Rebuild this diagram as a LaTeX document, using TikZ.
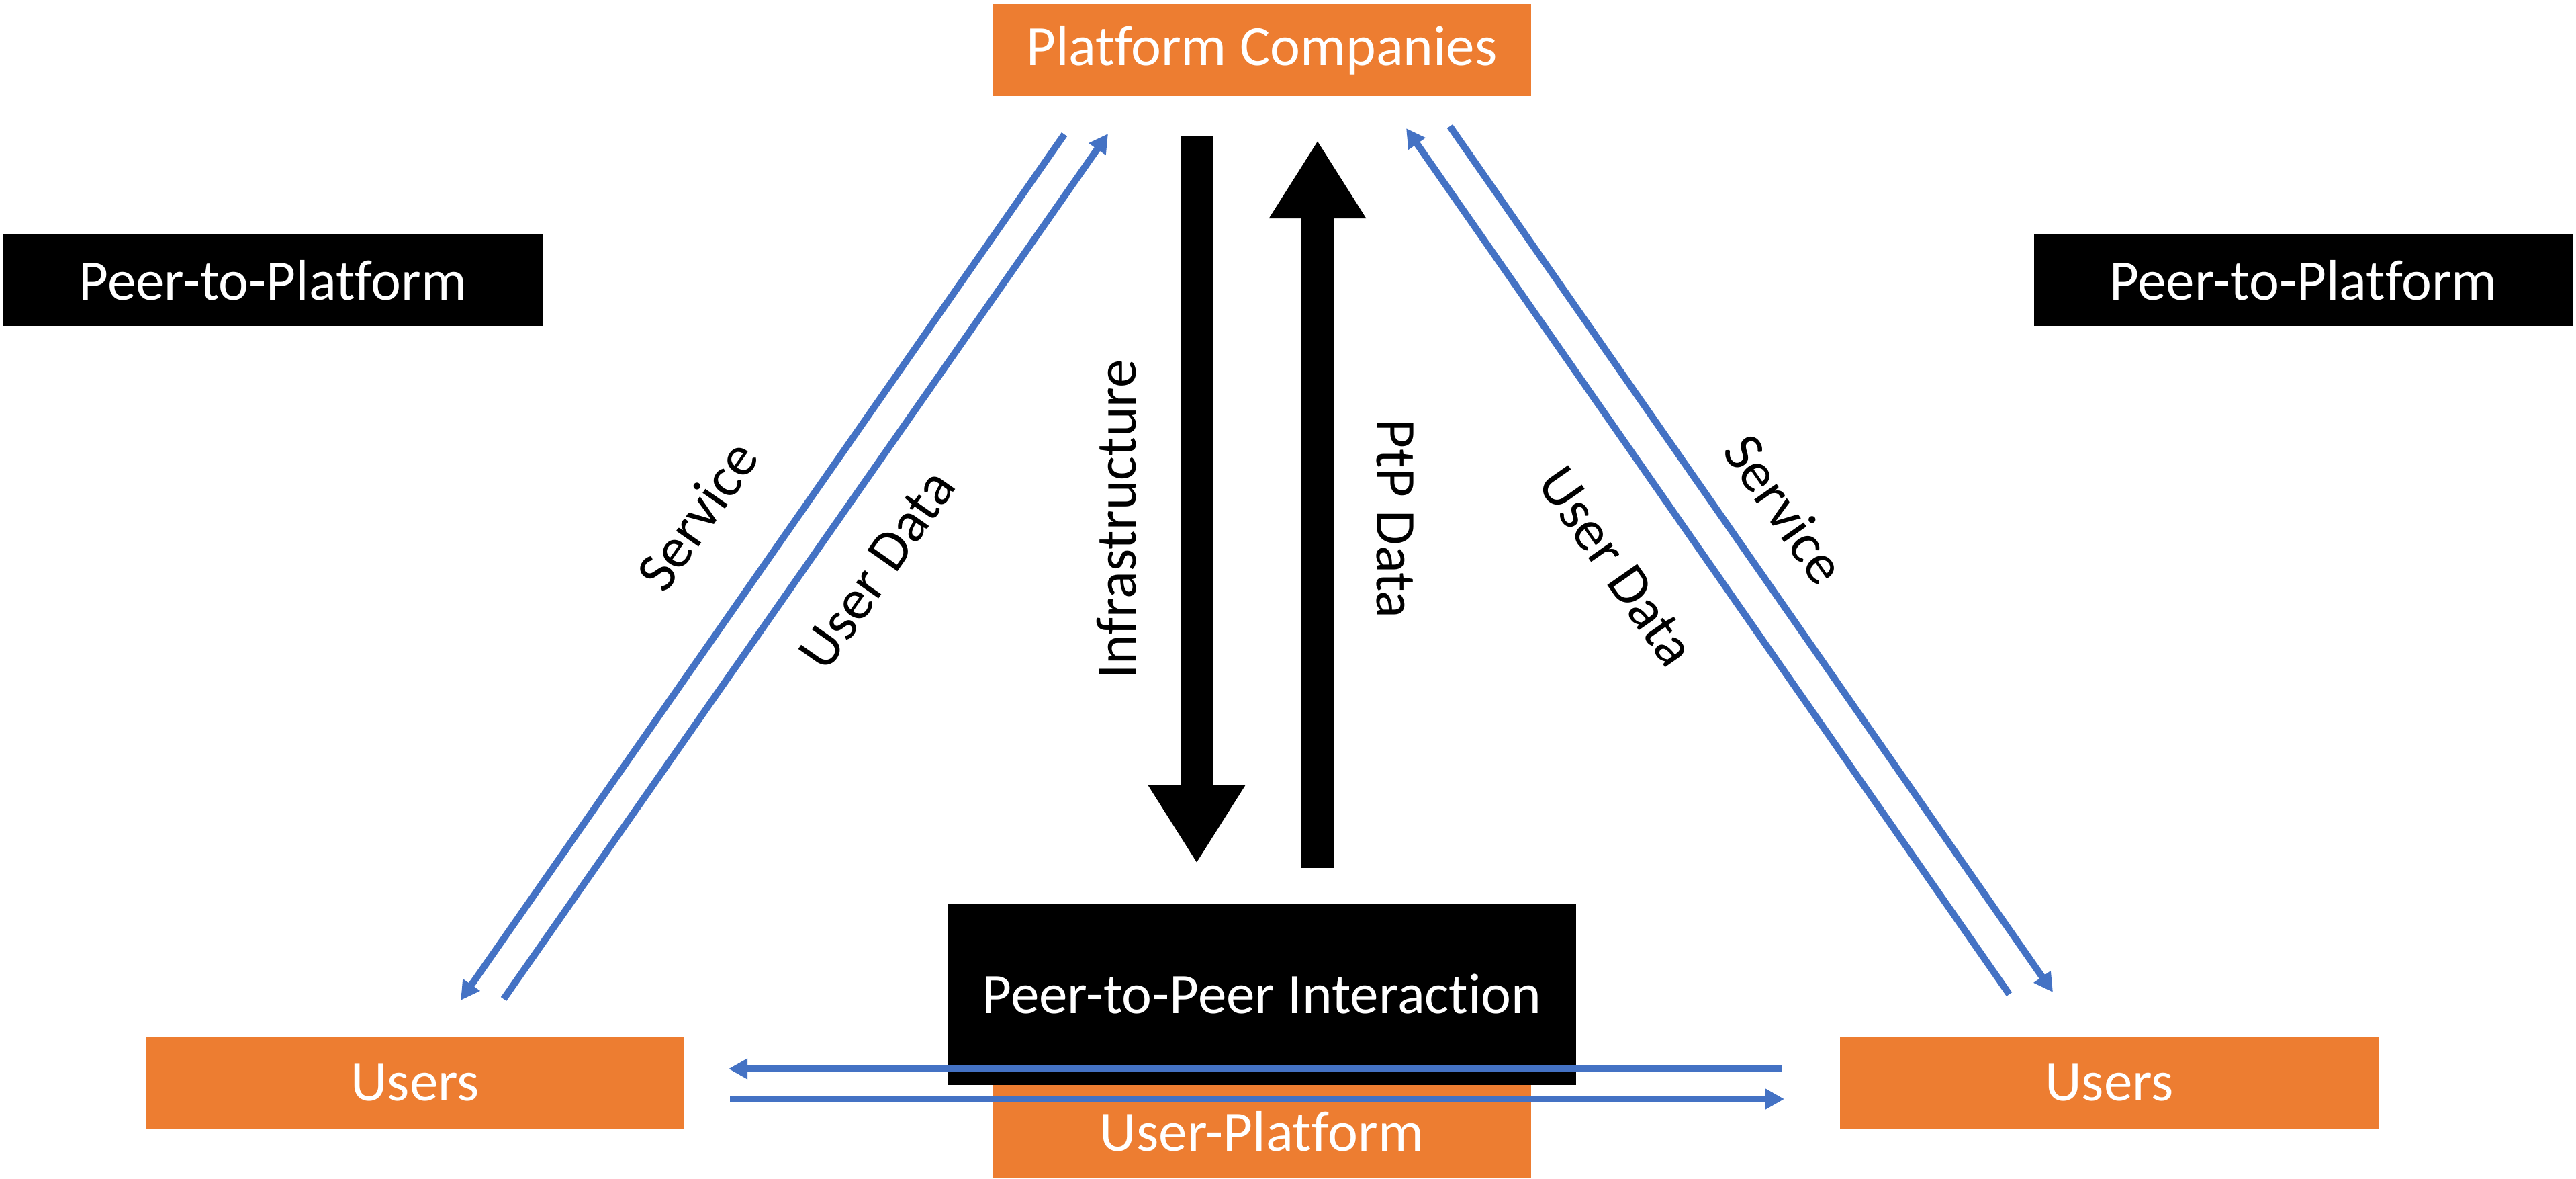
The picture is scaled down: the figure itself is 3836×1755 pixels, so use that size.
\documentclass[tikz,border=0pt]{standalone}
\usepackage{fontspec}
\setmainfont[Ligatures={NoCommon,NoRequired,NoContextual}]{Carlito}
\usetikzlibrary{arrows.meta}
\definecolor{boxorange}{HTML}{ED7D31}
\definecolor{linkblue}{HTML}{4472C4}

\tikzset{
    boxtext/.style={font=\fontsize{24.2}{29}\selectfont},
    orangebox/.style={boxtext, fill=boxorange, text=white, inner sep=0pt,
        minimum width=8.02cm, minimum height=1.37cm},
    blackbox/.style={boxtext, fill=black, text=white, inner sep=0pt,
        minimum width=8.02cm, minimum height=1.38cm},
    lbl/.style={boxtext, inner sep=0pt},
    flow/.style={linkblue, line width=2.9pt, -{Triangle[length=8pt,width=8.3pt]}},
    bigflow/.style={line width=13.7pt, -{Triangle[length=33pt,width=38.7pt]}}
}

\begin{document}
\begin{tikzpicture}[x=0.01cm, y=-0.01cm]
    \useasboundingbox (0,0) rectangle (3836,1755);

    % boxes
    \node[orangebox] (platform) at (1879, 74.5) {Platform Companies};
    \node[blackbox] (ptpleft) at (406.5, 417) {Peer-to-Platform};
    \node[blackbox] (ptpright) at (3430, 417) {Peer-to-Platform};
    \node[orangebox] (usersleft) at (618, 1611.5) {Users};
    \node[orangebox] (usersright) at (3141, 1611.5) {Users};
    \node[blackbox, minimum width=9.36cm, minimum height=2.7cm] (interaction) at (1879, 1480) {Peer-to-Peer Interaction};
    \node[orangebox, minimum height=1.38cm] (userplatform) at (1879, 1684) {User-Platform};

    % end points of the links
    \coordinate (svcLtop) at (1585, 200);
    \coordinate (svcLbot) at (686, 1489);
    \coordinate (udLbot) at (750, 1487);
    \coordinate (udLtop) at (1650, 199);
    \coordinate (udRbot) at (2992, 1480);
    \coordinate (udRtop) at (2094, 191);
    \coordinate (svcRtop) at (2159, 188);
    \coordinate (svcRbot) at (3057, 1477);
    \coordinate (p2pRight) at (2654, 1591);
    \coordinate (p2pLeft) at (1085, 1591);
    \coordinate (upLeft) at (1087, 1636);
    \coordinate (upRight) at (2657, 1636);
    \coordinate (infraTop) at (1782, 203);
    \coordinate (infraBot) at (1782, 1285);
    \coordinate (dataBot) at (1962, 1292);
    \coordinate (dataTop) at (1962, 209);

    % links
    \draw[flow] (svcLtop) -- (svcLbot);
    \draw[flow] (udLbot) -- (udLtop);
    \draw[flow] (udRbot) -- (udRtop);
    \draw[flow] (svcRtop) -- (svcRbot);
    \draw[flow] (p2pRight) -- (p2pLeft);
    \draw[flow] (upLeft) -- (upRight);
    \draw[bigflow] (infraTop) -- (infraBot);
    \draw[bigflow] (dataBot) -- (dataTop);

    % labels
    \node[lbl, rotate=55] (svcL) at (1038, 767) {Service};
    \node[lbl, rotate=55] (udL) at (1306, 848) {User Data};
    \node[lbl, rotate=-55] (udR) at (2407, 843) {User Data};
    \node[lbl, rotate=-55] (svcR) at (2658, 758) {Service};
    \node[lbl, rotate=90] (infra) at (1663, 773) {Infrastructure};
    \node[lbl, rotate=-90] (ptpdata) at (2077, 772) {PtP Data};
\end{tikzpicture}
\end{document}
